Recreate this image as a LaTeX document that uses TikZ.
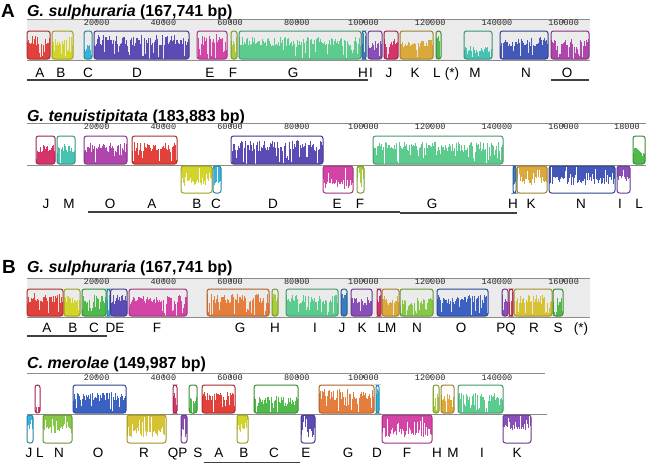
\documentclass[tikz,border=0pt]{standalone}
\usepackage{fontspec}
\setmainfont{Liberation Sans}
\newfontfamily\tickfont{Liberation Mono}
\definecolor{cR}{HTML}{E2403A}
\definecolor{cY}{HTML}{D2D42A}
\definecolor{cY2}{HTML}{D6C232}
\definecolor{cC}{HTML}{36B2D8}
\definecolor{cPB}{HTML}{5A4CB4}
\definecolor{cMg}{HTML}{D444A6}
\definecolor{cYG}{HTML}{A8CC3C}
\definecolor{cG}{HTML}{5CCB8E}
\definecolor{cBl}{HTML}{3A7CC0}
\definecolor{cPu}{HTML}{8A4EB8}
\definecolor{cCr}{HTML}{D6336A}
\definecolor{cGo}{HTML}{DBA83C}
\definecolor{cGL}{HTML}{4FBA4A}
\definecolor{cT}{HTML}{46C2B0}
\definecolor{cN}{HTML}{4358B8}
\definecolor{cN2}{HTML}{3B62C2}
\definecolor{cO}{HTML}{B045AE}
\definecolor{cOr}{HTML}{E57E3C}
\definecolor{cLG}{HTML}{86C846}
\tikzset{
  lbl/.style={font=\fontsize{13.5}{14}\selectfont, anchor=base, inner sep=0pt},
  tk/.style={font=\tickfont\fontsize{8.5}{8.5}\selectfont, text=black!85, inner sep=0pt},
  ttl/.style={font=\fontsize{16}{16}\selectfont\bfseries, anchor=base west, inner sep=0pt},
  plet/.style={font=\fontsize{19}{19}\selectfont\bfseries, anchor=base west, inner sep=0pt},
  gline/.style={draw=black!45, line width=1pt},
  uline/.style={draw=black!75, line width=1.1pt},
  tickmark/.style={draw=black!60, line width=0.5pt},
  blkedge/.style={rounded corners=2.5pt, line width=1pt},
}
\newcommand{\blkU}[6]{%
  \begin{scope}
    \clip[rounded corners=2.5pt] (#1,#3) rectangle (#2,#4);
    \pgfmathtruncatemacro{\nb}{(#2-#1)/1.0}
    \foreach \i in {0,...,\nb}{
      \pgfmathsetmacro{\xa}{#1+\i*1.0}
      \pgfmathsetmacro{\rr}{rnd}
      \pgfmathsetmacro{\hf}{\rr<0.16 ? 0.35*rnd : #6*(0.55+0.45*rnd)}
      \fill[#5] ({\xa},{#4}) rectangle ({\xa+1.05},{#4-\hf*(#4-#3)});
    }
  \end{scope}
  \draw[#5!75!black, blkedge] (#1,#3) rectangle (#2,#4);
}
\newcommand{\blkD}[6]{%
  \begin{scope}
    \clip[rounded corners=2.5pt] (#1,#3) rectangle (#2,#4);
    \pgfmathtruncatemacro{\nb}{(#2-#1)/1.0}
    \foreach \i in {0,...,\nb}{
      \pgfmathsetmacro{\xa}{#1+\i*1.0}
      \pgfmathsetmacro{\rr}{rnd}
      \pgfmathsetmacro{\hf}{\rr<0.16 ? 0.35*rnd : #6*(0.55+0.45*rnd)}
      \fill[#5] ({\xa},{#3}) rectangle ({\xa+1.05},{#3+\hf*(#4-#3)});
    }
  \end{scope}
  \draw[#5!75!black, blkedge] (#1,#3) rectangle (#2,#4);
}
% tick labels: #1 = label y, #2 = list
\newcommand{\ticks}[2]{%
  \foreach \v in {#2}{
    \pgfmathsetmacro{\tx}{30+\v*3.335}
    \node[tk] (tk\v) at (\tx,#1) {\v000};
    \draw[tickmark] (\tx,#1-3) -- (\tx,#1);
  }
}
\newcommand{\lab}[4]{\node[lbl] (#1) at (#2,#3) {#4};}
\begin{document}
\begin{tikzpicture}[x=1pt,y=-1pt]
\pgfmathsetseed{11}
\useasboundingbox (0,0) rectangle (646,464);
\fill[white] (0,0) rectangle (646,464);

% ================= Panel A =================
\node[plet] (PA) at (1,17) {A};
\node[ttl] (tA1) at (27,16) {\textit{G. sulphuraria} (167,741 bp)};
\fill[black!8] (27,19) rectangle (590,60);
\draw[gline] (27,19) -- (590,19);
\draw[gline] (27,60) -- (590,60);
\ticks{23}{20,40,60,80,100,120,140,160}
\blkU{27}{50}{31}{59}{cR}{0.85}
\blkU{52}{73}{31}{59}{cY}{0.8}
\blkU{84}{92}{31}{59}{cC}{0.55}
\blkU{94}{189}{31}{59}{cPB}{0.85}
\blkU{197}{227}{31}{59}{cMg}{0.9}
\blkU{231}{237}{31}{59}{cYG}{0.9}
\blkU{239}{361}{31}{59}{cG}{0.8}
\blkU{362}{366}{31}{59}{cBl}{0.95}
\blkU{368}{382}{31}{59}{cPu}{0.7}
\blkU{384}{398}{31}{59}{cCr}{0.75}
\blkU{400}{433}{31}{59}{cGo}{0.7}
\blkU{436}{441}{31}{59}{cGL}{0.9}
\blkU{464}{492}{31}{59}{cT}{0.45}
\blkU{500}{548}{31}{59}{cN}{0.8}
\blkU{551}{589}{31}{59}{cO}{0.7}
\lab{a1}{40}{77}{A}\lab{a2}{61}{77}{B}\lab{a3}{88}{77}{C}\lab{a4}{137}{77}{D}
\lab{a5}{210}{77}{E}\lab{a6}{233}{77}{F}\lab{a7}{293}{77}{G}\lab{a8}{363}{77}{H}
\lab{a9}{371}{77}{I}\lab{a10}{389}{77}{J}\lab{a11}{415}{77}{K}\lab{a12}{437}{77}{L}
\lab{a13}{452}{77}{(*)}\lab{a14}{475}{77}{M}\lab{a15}{526}{77}{N}\lab{a16}{567}{77}{O}
\draw[uline] (27,80) -- (368,80);
\draw[uline] (551,80) -- (589,80);

% G. tenuistipitata
\node[ttl] (tA2) at (27,121) {\textit{G. tenuistipitata} (183,883 bp)};
\draw[gline] (27,123) -- (646,123);
\draw[gline] (27,165) -- (646,165);
\ticks{127}{20,40,60,80,100,120,140,160}
\node[tk, anchor=west] (tk180) at (614,127) {18000};
\draw[tickmark] (630,124) -- (630,127);
\blkU{36}{55}{136}{164}{cCr}{0.7}
\blkU{57}{75}{136}{164}{cT}{0.7}
\blkU{84}{127}{136}{164}{cO}{0.75}
\blkU{132}{177}{136}{164}{cR}{0.8}
\blkU{231}{323}{136}{164}{cPB}{0.85}
\blkU{373}{503}{136}{164}{cG}{0.8}
\blkU{633}{645}{136}{164}{cGL}{0.6}
\blkD{181}{212}{166}{193}{cY}{0.75}
\blkD{213}{221}{166}{193}{cC}{0.8}
\blkD{323}{353}{166}{193}{cMg}{0.85}
\blkD{357}{364}{166}{193}{cYG}{0.8}
\blkD{513}{516}{166}{193}{cBl}{0.95}
\blkD{517}{547}{166}{193}{cGo}{0.7}
\blkD{549}{615}{166}{193}{cN}{0.7}
\blkD{617}{630}{166}{193}{cPu}{0.6}
\lab{b1}{46}{208}{J}\lab{b2}{69}{208}{M}\lab{b3}{110}{208}{O}\lab{b4}{152}{208}{A}
\lab{b5}{197}{208}{B}\lab{b6}{216}{208}{C}\lab{b7}{273}{208}{D}\lab{b8}{337}{208}{E}
\lab{b9}{360}{208}{F}\lab{b10}{432}{208}{G}\lab{b11}{513}{208}{H}\lab{b12}{531}{208}{K}
\lab{b13}{581}{208}{N}\lab{b14}{620}{208}{I}\lab{b15}{639}{208}{L}
\draw[uline] (88,212) -- (400,212);
\draw[uline] (400,213) -- (517,213);

% ================= Panel B =================
\node[plet] (PB) at (2,273) {B};
\node[ttl] (tB1) at (27,272) {\textit{G. sulphuraria} (167,741 bp)};
\fill[black!8] (27,278) rectangle (590,317);
\draw[gline] (27,278) -- (590,278);
\draw[gline] (27,317) -- (590,317);
\ticks{282}{20,40,60,80,100,120,140,160}
\blkU{27}{63}{289}{316}{cR}{0.85}
\blkU{64}{80}{289}{316}{cY}{0.8}
\blkU{82}{106}{289}{316}{cGL}{0.8}
\blkU{107}{110}{289}{316}{cC}{0.95}
\blkU{110.5}{127}{289}{316}{cPB}{0.8}
\blkU{129}{187}{289}{316}{cMg}{0.8}
\blkU{207}{269}{289}{316}{cOr}{0.85}
\blkU{272}{278}{289}{316}{cYG}{0.9}
\blkU{286}{338}{289}{316}{cG}{0.8}
\blkU{341}{347}{289}{316}{cBl}{0.95}
\blkU{351}{372}{289}{316}{cPu}{0.7}
\blkU{377}{381}{289}{316}{cCr}{0.9}
\blkU{382}{399}{289}{316}{cGo}{0.75}
\blkU{400}{433}{289}{316}{cLG}{0.7}
\blkU{437}{488}{289}{316}{cN2}{0.8}
\blkU{502}{508}{289}{316}{cPu}{0.9}
\blkU{509}{513}{289}{316}{cCr}{0.9}
\blkU{514}{552}{289}{316}{cY2}{0.8}
\blkU{553}{563}{289}{316}{cGL}{0.7}
\lab{c1}{47}{332}{A}\lab{c2}{73}{332}{B}\lab{c3}{94}{332}{C}\lab{c4}{115}{332}{DE}
\lab{c5}{157}{332}{F}\lab{c6}{240}{332}{G}\lab{c7}{275}{332}{H}\lab{c8}{315}{332}{I}
\lab{c9}{342}{332}{J}\lab{c10}{362}{332}{K}\lab{c11}{387}{332}{LM}\lab{c12}{417}{332}{N}
\lab{c13}{461}{332}{O}\lab{c14}{506}{332}{PQ}\lab{c15}{534}{332}{R}\lab{c16}{558}{332}{S}
\lab{c17}{581}{332}{(*)}
\draw[uline] (27,336) -- (107,336);

% C. merolae
\node[ttl] (tB2) at (27,368) {\textit{C. merolae} (149,987 bp)};
\draw[gline] (27,373) -- (545,373);
\draw[gline] (27,414) -- (547,414);
\ticks{378}{20,40,60,80,100,120,140}
\blkU{35}{40}{385}{413}{cCr}{0.3}
\blkU{73}{126}{385}{413}{cN2}{0.75}
\blkU{173}{177}{385}{413}{cCr}{0.9}
\blkU{189}{197}{385}{413}{cGL}{0.6}
\blkU{202}{235}{385}{413}{cR}{0.8}
\blkU{254}{298}{385}{413}{cGL}{0.6}
\blkU{319}{374}{385}{413}{cOr}{0.85}
\blkU{376}{379}{385}{413}{cC}{0.95}
\blkU{433}{439}{385}{413}{cYG}{0.9}
\blkU{441}{454}{385}{413}{cGo}{0.7}
\blkU{458}{503}{385}{413}{cG}{0.75}
\blkD{27}{33}{415}{443}{cC}{0.6}
\blkD{43}{72}{415}{443}{cLG}{0.7}
\blkD{127}{166}{415}{443}{cY2}{0.8}
\blkD{181}{187}{415}{443}{cPu}{0.8}
\blkD{237}{248}{415}{443}{cY}{0.6}
\blkD{301}{315}{415}{443}{cPB}{0.8}
\blkD{382}{432}{415}{443}{cMg}{0.8}
\blkD{503}{531}{415}{443}{cPu}{0.6}
\lab{d1}{29}{457}{J}\lab{d2}{40}{457}{L}\lab{d3}{59}{457}{N}\lab{d4}{98}{457}{O}
\lab{d5}{144}{457}{R}\lab{d6}{173}{457}{Q}\lab{d7}{183}{457}{P}\lab{d8}{198}{457}{S}
\lab{d9}{219}{457}{A}\lab{d10}{244}{457}{B}\lab{d11}{274}{457}{C}\lab{d12}{306}{457}{E}
\lab{d13}{348}{457}{G}\lab{d14}{377}{457}{D}\lab{d15}{407}{457}{F}\lab{d16}{437}{457}{H}
\lab{d17}{453}{457}{M}\lab{d18}{482}{457}{I}\lab{d19}{517}{457}{K}
\draw[uline] (204,462.5) -- (300,462.5);
\end{tikzpicture}
\end{document}
